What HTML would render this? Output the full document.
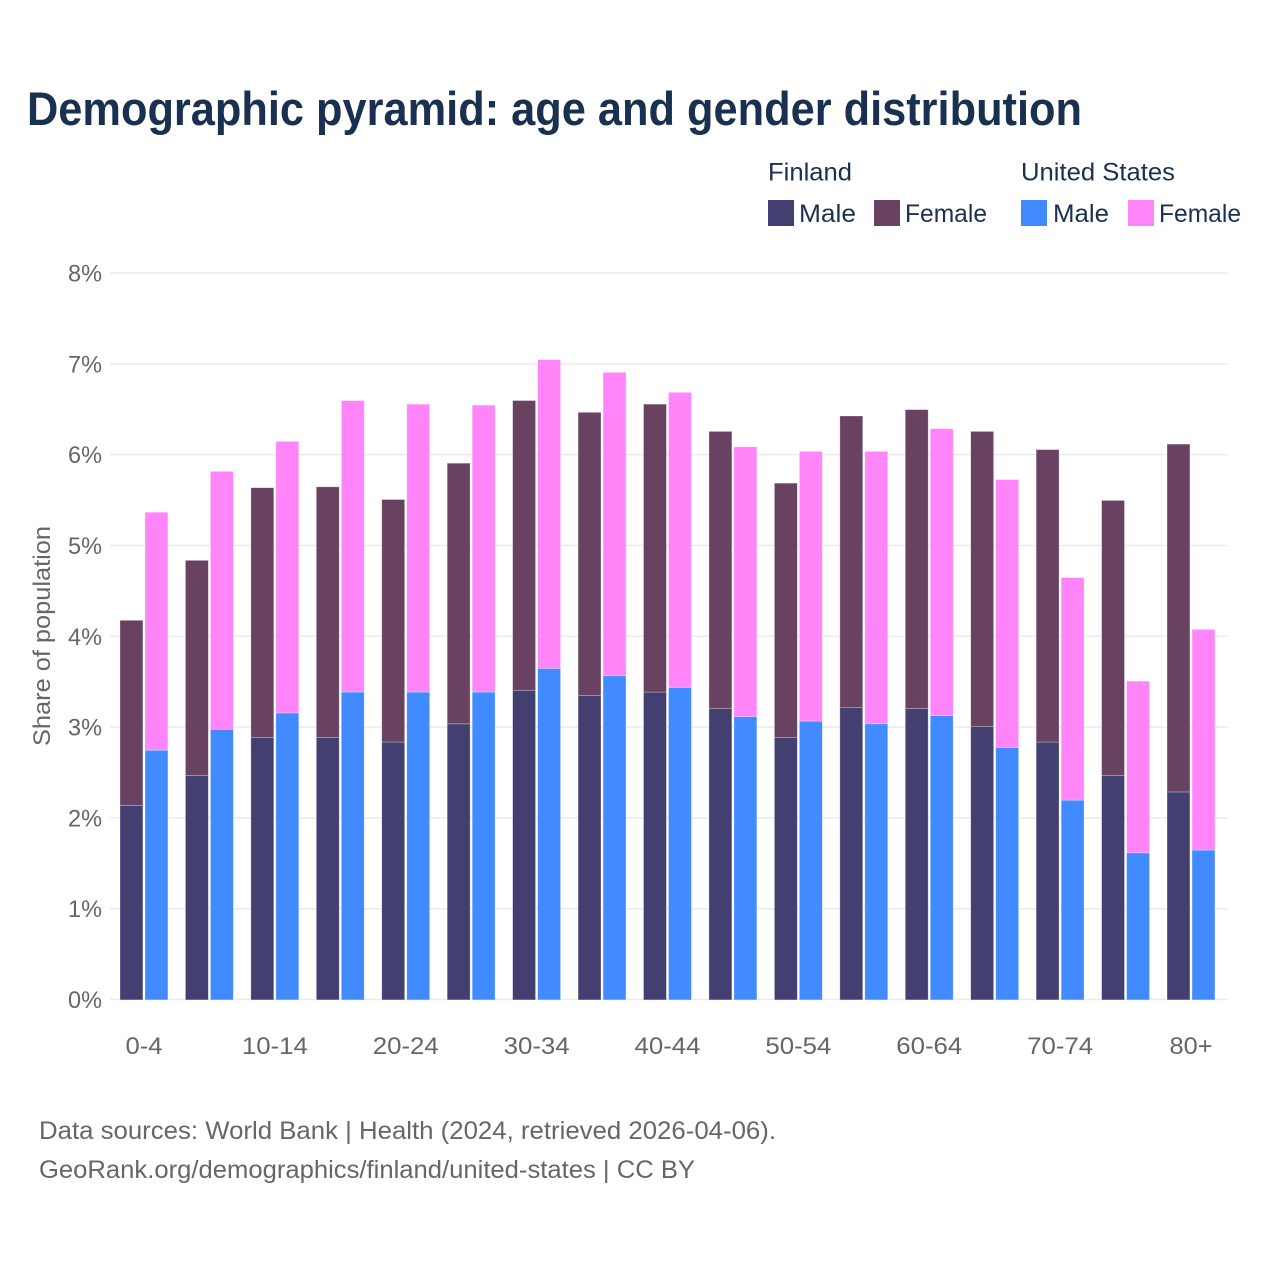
<!DOCTYPE html>
<html lang="en">
<head>
<meta charset="utf-8">
<title>Demographic pyramid: age and gender distribution</title>
<style>
html,body{margin:0;padding:0;background:#fff;}
svg{display:block;}
text{font-family:"Liberation Sans",sans-serif;}
</style>
</head>
<body>
<svg id="chart" xmlns="http://www.w3.org/2000/svg" width="1280" height="1280" viewBox="0 0 1280 1280">
  <rect x="0" y="0" width="1280" height="1280" fill="#ffffff"/>
  <text x="27" y="125" font-size="47" font-weight="700" fill="#1a3050" textLength="1055" lengthAdjust="spacingAndGlyphs">Demographic pyramid: age and gender distribution</text>

  <g font-size="25" fill="#1a3050">
    <text x="768" y="180.5" textLength="84" lengthAdjust="spacingAndGlyphs">Finland</text>
    <text x="1021" y="180.5" textLength="154" lengthAdjust="spacingAndGlyphs">United States</text>
    <rect x="768" y="200" width="26" height="26" fill="#433f70"/>
    <text x="799" y="222" textLength="57" lengthAdjust="spacingAndGlyphs">Male</text>
    <rect x="874" y="200" width="26" height="26" fill="#684260"/>
    <text x="905" y="222" textLength="82" lengthAdjust="spacingAndGlyphs">Female</text>
    <rect x="1021" y="200" width="26" height="26" fill="#418aff"/>
    <text x="1053" y="222" textLength="56" lengthAdjust="spacingAndGlyphs">Male</text>
    <rect x="1128" y="200" width="26" height="26" fill="#ff85f9"/>
    <text x="1159" y="222" textLength="82" lengthAdjust="spacingAndGlyphs">Female</text>
  </g>

  <g id="grid"></g>
  <g id="y-ticks"></g>
  <g id="bars"></g>
  <g id="x-ticks"></g>

  <text x="0" y="0" transform="translate(50,636) rotate(-90)" text-anchor="middle" font-size="24" fill="#666666" textLength="220" lengthAdjust="spacingAndGlyphs">Share of population</text>

  <text x="39" y="1139" font-size="25" fill="#666666" textLength="737" lengthAdjust="spacingAndGlyphs">Data sources: World Bank | Health (2024, retrieved 2026-04-06).</text>
  <text x="39" y="1178" font-size="25" fill="#666666" textLength="656" lengthAdjust="spacingAndGlyphs">GeoRank.org/demographics/finland/united-states | CC BY</text>
</svg>
<script>
const ageGroups = ['0-4','5-9','10-14','15-19','20-24','25-29','30-34','35-39','40-44','45-49','50-54','55-59','60-64','65-69','70-74','75-79','80+'];
const xTickLabels = ['0-4','10-14','20-24','30-34','40-44','50-54','60-64','70-74','80+'];
const yTickValues = [0,1,2,3,4,5,6,7,8];
const finlandMale = [2.14,2.47,2.89,2.89,2.84,3.04,3.41,3.35,3.39,3.21,2.89,3.22,3.21,3.01,2.84,2.47,2.29];
const finlandFemale = [2.04,2.37,2.75,2.76,2.67,2.87,3.19,3.12,3.17,3.05,2.80,3.21,3.29,3.25,3.22,3.03,3.83];
const usMale = [2.75,2.98,3.16,3.39,3.39,3.39,3.65,3.57,3.44,3.12,3.07,3.04,3.13,2.78,2.20,1.62,1.65];
const usFemale = [2.62,2.84,2.99,3.21,3.17,3.16,3.40,3.34,3.25,2.97,2.97,3.00,3.16,2.95,2.45,1.89,2.43];

const NS = 'http://www.w3.org/2000/svg';
const plotLeft = 110, plotRight = 1228, y0 = 999.5, y8 = 273;
const firstBarX = 120, groupStep = 65.44, barW = 22.9, barGap = 25;
const yScale = v => y0 - v * (y0 - y8) / 8;
const xBand = i => firstBarX + i * groupStep;

const gridG = document.getElementById('grid');
const yG = document.getElementById('y-ticks');
yTickValues.forEach(v => {
  const line = document.createElementNS(NS, 'line');
  
  
  line.setAttribute('x1', plotLeft);
  line.setAttribute('x2', plotRight);
  line.setAttribute('y1', yScale(v));
  line.setAttribute('y2', yScale(v));
  line.setAttribute('stroke', '#ebebeb');
  line.setAttribute('stroke-width', '1.5');
  gridG.appendChild(line);
  const t = document.createElementNS(NS, 'text');
  
  
  t.setAttribute('x', 102);
  t.setAttribute('y', yScale(v) + 8.5);
  t.setAttribute('text-anchor', 'end');
  t.setAttribute('font-size', '24');
  t.setAttribute('fill', '#666666');
  t.setAttribute('textLength', '34');
  t.setAttribute('lengthAdjust', 'spacingAndGlyphs');
  t.textContent = v + '%';
  yG.appendChild(t);
});

const barsG = document.getElementById('bars');
function drawBar(x, base, val, color, name) {
  const r = document.createElementNS(NS, 'rect');
  
  
  r.setAttribute('x', x);
  r.setAttribute('y', yScale(base + val) + 0.4);
  r.setAttribute('width', barW);
  r.setAttribute('height', yScale(base) - yScale(base + val));
  r.setAttribute('fill', color);
  r.setAttribute('stroke', '#ffffff');
  r.setAttribute('stroke-opacity', '0.4');
  r.setAttribute('stroke-width', '0.7');
  barsG.appendChild(r);
}
ageGroups.forEach((g, i) => {
  const x = xBand(i);
  drawBar(x, 0, finlandMale[i], '#433f70', 'bar-finland-male-' + g);
  drawBar(x, finlandMale[i], finlandFemale[i], '#684260', 'bar-finland-female-' + g);
  drawBar(x + barGap, 0, usMale[i], '#418aff', 'bar-us-male-' + g);
  drawBar(x + barGap, usMale[i], usFemale[i], '#ff85f9', 'bar-us-female-' + g);
});

const xG = document.getElementById('x-ticks');
xTickLabels.forEach(label => {
  const i = ageGroups.indexOf(label);
  const t = document.createElementNS(NS, 'text');
  
  
  t.setAttribute('x', xBand(i) + 24);
  t.setAttribute('y', 1054);
  t.setAttribute('text-anchor', 'middle');
  t.setAttribute('font-size', '24');
  t.setAttribute('fill', '#666666');
  t.setAttribute('textLength', label.length === 5 ? '66' : (label === '80+' ? '43' : '37'));
  t.setAttribute('lengthAdjust', 'spacingAndGlyphs');
  t.textContent = label;
  xG.appendChild(t);
});
</script>
</body>
</html>
